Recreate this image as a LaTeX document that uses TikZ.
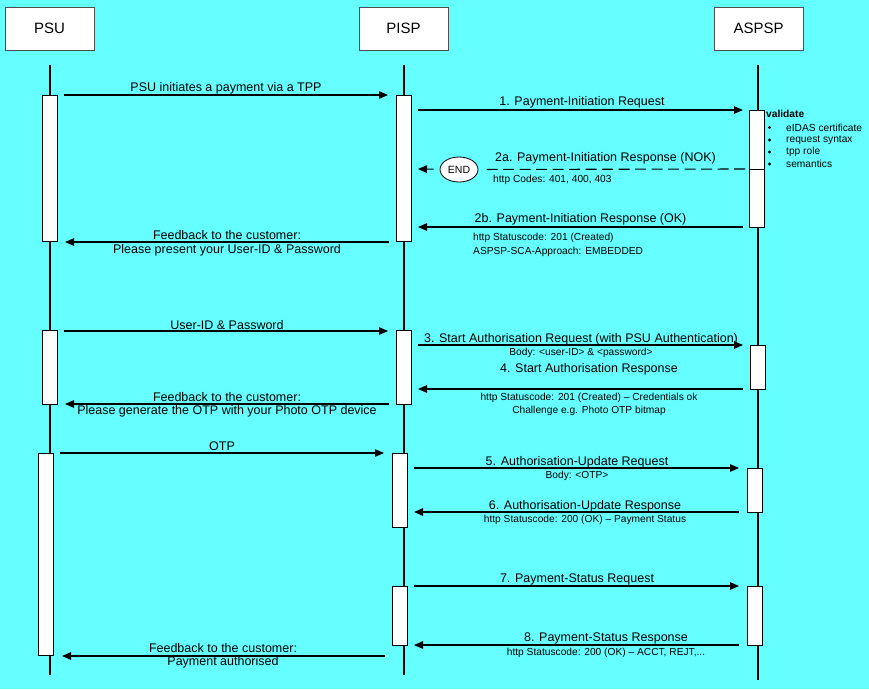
\documentclass[tikz,border=0pt]{standalone}
\usepackage{fontspec}
\setmainfont{Liberation Sans}
\usetikzlibrary{arrows.meta,shapes.geometric}
\definecolor{bgcyan}{RGB}{102,255,255}
\definecolor{boxgray}{RGB}{80,80,80}

\begin{document}
\begin{tikzpicture}[x=1pt,y=-1pt,
  head/.style={draw=boxgray,fill=white,line width=0.8pt,minimum width=89pt,minimum height=43pt,inner sep=0pt,font=\fontsize{15}{18}\selectfont},
  life/.style={line width=1.8pt},
  act/.style={draw=black,fill=white,line width=0.8pt},
  msg/.style={line width=1.1pt,-{Triangle[length=9pt,width=7.5pt]}},
  lbl/.style={font=\fontsize{12.5}{14}\selectfont,inner sep=0pt},
  note/.style={font=\fontsize{10.2}{12}\selectfont,inner sep=0pt},
  bul/.style={font=\fontsize{10.2}{12}\selectfont,inner sep=0pt,anchor=west},
]
% canvas
\useasboundingbox (0,0) rectangle (869,689);
\fill[bgcyan] (0,0) rectangle (869,689);

% participants
\node[head] (psu)   at (49.5,28.5)  {PSU};
\node[head] (pisp)  at (403.5,28.5) {PISP};
\node[head] (aspsp) at (758.5,28.5) {ASPSP};

% lifelines
\coordinate (psuT) at (50,65);   \coordinate (psuB) at (50,675);
\coordinate (pispT) at (404,65); \coordinate (pispB) at (404,675);
\coordinate (aspT) at (758,65);  \coordinate (aspB) at (758,680);
\draw[life] (psuT) -- (psuB);
\draw[life] (pispT) -- (pispB);
\draw[life] (aspT) -- (aspB);

% activation bars
\draw[act] (42.5,95) rectangle (57.5,241);
\draw[act] (42.5,330.5) rectangle (57.5,404);
\draw[act] (38,453) rectangle (53,655.5);

\draw[act] (396.5,95) rectangle (411,241);
\draw[act] (396.5,330.5) rectangle (411,404);
\draw[act] (392,453) rectangle (407,527);
\draw[act] (392,586) rectangle (407,645);

\draw[act] (749,110) rectangle (764,227);
\draw[line width=0.8pt] (749,169) -- (764,169);
\draw[act] (750.5,345) rectangle (765.5,389);
\draw[act] (747,468) rectangle (762,512);
\draw[act] (747,586) rectangle (762,645);

% validation checklist
\node[inner sep=0pt,anchor=west,font=\fontsize{10.2}{12}\selectfont\bfseries] (val) at (766,114) {validate};
\foreach \t/\y [count=\i] in {eIDAS certificate/127.5,request syntax/140,tpp role/152,semantics/164}{
  \fill (769.5,\y) circle (1.7pt) coordinate (vb\i);
  \node[bul] (vt\i) at (786,\y) {\t};
}

% message end points
\coordinate (a0) at (64,95);    \coordinate (b0) at (388,95);
\coordinate (a1) at (418,110);  \coordinate (b1) at (743,110);
\coordinate (b2a) at (745,169); \coordinate (a2a) at (418,169);
\coordinate (b2b) at (743,227); \coordinate (a2b) at (418,227);
\coordinate (f1s) at (389,242); \coordinate (f1e) at (65,242);
\coordinate (a3) at (64,331);   \coordinate (b3) at (388,331);
\coordinate (a4) at (418,345);  \coordinate (b4) at (743,345);
\coordinate (b5) at (743,389);  \coordinate (a5) at (418,389);
\coordinate (f2s) at (389,404); \coordinate (f2e) at (65,404);
\coordinate (a6) at (60,453);   \coordinate (b6) at (384,453);
\coordinate (a7) at (414,468);  \coordinate (b7) at (739,468);
\coordinate (b8) at (739,512);  \coordinate (a8) at (414,512);
\coordinate (a9) at (414,586);  \coordinate (b9) at (739,586);
\coordinate (b10) at (739,645); \coordinate (a10) at (414,645);
\coordinate (f3s) at (385,656); \coordinate (f3e) at (62,656);

% END marker for the rejected request
\node[ellipse,draw=black,fill=white,line width=0.8pt,minimum width=38pt,minimum height=25pt,inner sep=0pt,font=\fontsize{10.5}{12}\selectfont] (endn) at (459,169.5) {END};

% messages
\draw[msg] (a0) -- (b0);
\draw[msg] (a1) -- (b1);
\draw[line width=1.1pt,dash pattern=on 11pt off 5.5pt,shorten >=7pt] (b2a) -- (endn);
\draw[msg,shorten <=6pt] (endn) -- (a2a);
\draw[msg] (b2b) -- (a2b);
\draw[msg] (f1s) -- (f1e);
\draw[msg] (a3) -- (b3);
\draw[msg] (a4) -- (b4);
\draw[msg] (b5) -- (a5);
\draw[msg] (f2s) -- (f2e);
\draw[msg] (a6) -- (b6);
\draw[msg] (a7) -- (b7);
\draw[msg] (b8) -- (a8);
\draw[msg] (a9) -- (b9);
\draw[msg] (b10) -- (a10);
\draw[msg] (f3s) -- (f3e);

% labels
\node[lbl] (l0) at (226,88) {PSU initiates a payment via a TPP};
\node[lbl] (l1) at (582,102) {1. Payment-Initiation Request};
\node[lbl] (l2a) at (605.5,158) {2a. Payment-Initiation Response (NOK)};
\node[note,anchor=west] (n2a) at (493,179.5) {http Codes: 401, 400, 403};
\node[lbl] (l2b) at (580.5,219) {2b. Payment-Initiation Response (OK)};
\node[note,anchor=west] (n2b1) at (473,238) {http Statuscode: 201 (Created)};
\node[note,anchor=west] (n2b2) at (473,252) {ASPSP-SCA-Approach: EMBEDDED};
\node[lbl] (lf1a) at (227,235) {Feedback to the customer:};
\node[lbl] (lf1b) at (227,250) {Please present your User-ID \& Password};
\node[lbl] (l3) at (227,325) {User-ID \& Password};
\node[lbl] (l4) at (581,339) {3. Start Authorisation Request (with PSU Authentication)};
\node[note] (n4) at (581,353) {Body: <user-ID> \& <password>};
\node[lbl] (l5) at (589,369) {4. Start Authorisation Response};
\node[note] (n5a) at (589,397.5) {http Statuscode: 201 (Created) – Credentials ok};
\node[note] (n5b) at (589,410.5) {Challenge e.g. Photo OTP bitmap};
\node[lbl] (lf2a) at (227,397) {Feedback to the customer:};
\node[lbl] (lf2b) at (227,411) {Please generate the OTP with your Photo OTP device};
\node[lbl] (l6) at (222,446) {OTP};
\node[lbl] (l7) at (577,462) {5. Authorisation-Update Request};
\node[note] (n7) at (577,475.5) {Body: <OTP>};
\node[lbl] (l8) at (585,506) {6. Authorisation-Update Response};
\node[note] (n8) at (585,520) {http Statuscode: 200 (OK) – Payment Status};
\node[lbl] (l9) at (577,579) {7. Payment-Status Request};
\node[lbl] (l10) at (606,638) {8. Payment-Status Response};
\node[note] (n10) at (606,652.5) {http Statuscode: 200 (OK) – ACCT, REJT,...};
\node[lbl] (lf3a) at (223,648) {Feedback to the customer:};
\node[lbl] (lf3b) at (223,662) {Payment authorised};
\end{tikzpicture}
\end{document}
